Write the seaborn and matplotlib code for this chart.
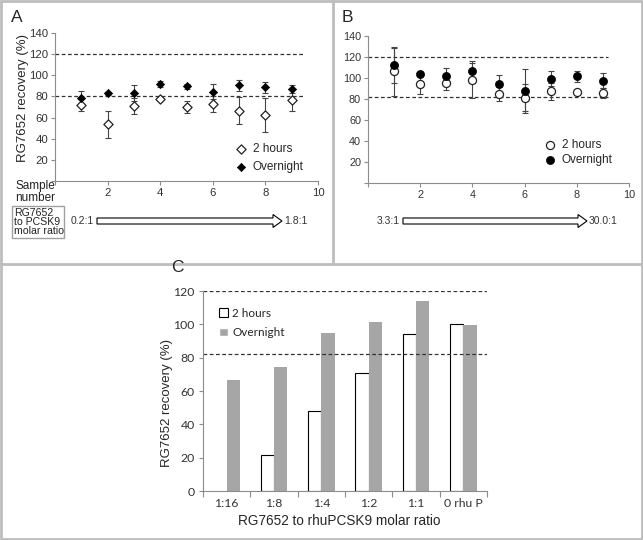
import matplotlib
matplotlib.use("Agg")
import matplotlib.pyplot as plt
from matplotlib.patches import FancyArrow, Rectangle
import numpy as np
import pandas as pd
import seaborn as sns

# data
samples = [1, 2, 3, 4, 5, 6, 7, 8, 9]

a_2h = [71.8, 53.6, 71.0, 77.2, 70.3, 72.8, 66.5, 62.4, 76.6]
a_2h_err = [6, 12.6, 7.5, 1.5, 5.7, 7.3, 12.6, 16.3, 10]
a_on = [78.8, 83.0, 83.0, 91.8, 89.6, 84.5, 90.6, 88.5, 87.0]
a_on_err = [6, 1.2, 7.5, 3, 2.5, 7, 5, 5, 4]

b_2h = [106.3, 94.2, 94.8, 97.7, 84.7, 81.2, 87.2, 86.3, 85.6]
b_2h_err = [23, 9, 6, 17, 7, 13, 8, 1.5, 5]
b_on = [112.0, 103.8, 101.5, 106.3, 94.2, 87.8, 99.3, 101.5, 97.4]
b_on_err = [17, 2, 8, 10, 9, 21, 7, 5, 7]

c_ratios = ["1:16", "1:8", "1:4", "1:2", "1:1", "0 rhu P"]
c_2h = [np.nan, 21.4, 47.9, 70.9, 94.2, 100.2]
c_on = [66.9, 74.5, 94.6, 101.2, 113.8, 99.8]

a_limits = [120, 80]
b_limits = [120, 82]
c_limits = [120, 82]

sns.set_style("white")
plt.rcParams["font.family"] = ["Liberation Sans", "DejaVu Sans"]
plt.rcParams["axes.edgecolor"] = "#8c8c8c"
plt.rcParams["xtick.color"] = "#8c8c8c"
plt.rcParams["ytick.color"] = "#8c8c8c"
plt.rcParams["xtick.labelcolor"] = "#333333"
plt.rcParams["ytick.labelcolor"] = "#333333"

fig = plt.figure(figsize=(6.43, 5.4), dpi=100)

# overlay in pixel coords for frames, arrows and boxes
ov = fig.add_axes([0, 0, 1, 1])
ov.set_xlim(0, 643)
ov.set_ylim(540, 0)
ov.axis("off")
frame = "#bdbdbd"
ov.add_patch(Rectangle((1, 1), 641, 538, fill=False, ec=frame, lw=2))
ov.plot([0, 643], [264, 264], color=frame, lw=2)
ov.plot([333, 333], [0, 264], color=frame, lw=2)

def hollow_arrow(x0, x1, y):
    ov.add_patch(FancyArrow(x0, y, x1 - x0, 0, width=6, head_width=13, head_length=9,
                            length_includes_head=True, fc="white", ec="black", lw=0.8))

hollow_arrow(97, 282, 221)
ov.text(94, 221, "0.2:1", ha="right", va="center", fontsize=7.5, color="#333333")
ov.text(284, 221, "1.8:1", ha="left", va="center", fontsize=7.5, color="#333333")
hollow_arrow(403, 587, 221)
ov.text(400, 221, "3.3:1", ha="right", va="center", fontsize=7.5, color="#333333")
ov.text(589, 221, "30.0:1", ha="left", va="center", fontsize=7.5, color="#333333")
ov.add_patch(Rectangle((12, 206), 52, 32, fill=False, ec="#a0a0a0", lw=1))
ov.text(14, 222, "RG7652\nto PCSK9\nmolar ratio", ha="left", va="center",
        fontsize=7.6, linespacing=0.88, color="#222222")
ov.text(15, 192, "Sample\nnumber", ha="left", va="center", fontsize=8.5,
        linespacing=0.95, color="#222222")
ov.text(11, 18, "A", fontsize=12.5, va="center")
ov.text(342, 18, "B", fontsize=12.5, va="center")
ov.text(171, 268, "C", fontsize=12.5, va="center")


def point_panel(ax, y2, e2, yo, eo, marker, msize, limits, dash_end):
    for lim in limits:
        ax.plot([0, dash_end], [lim, lim], ls=(0, (3, 2)), color="#333333", lw=0.9)
    ax.errorbar(samples, y2, yerr=e2, fmt="none", ecolor="#444444", elinewidth=0.8,
                capsize=2, capthick=0.8)
    ax.errorbar(samples, yo, yerr=eo, fmt="none", ecolor="#444444", elinewidth=0.8,
                capsize=2, capthick=0.8)
    sns.scatterplot(x=samples, y=y2, ax=ax, marker=marker, s=msize, facecolor="white",
                    edgecolor="#222222", linewidth=0.9, label="2 hours", zorder=3)
    sns.scatterplot(x=samples, y=yo, ax=ax, marker=marker, s=msize * 0.8 if marker == "D" else msize,
                    color="black", edgecolor="black", linewidth=0.5, label="Overnight", zorder=4)
    ax.set_xlim(0, 10)
    ax.set_ylim(0, 140)
    ax.set_xticks([0, 2, 4, 6, 8, 10])
    ax.set_xticklabels(["", "2", "4", "6", "8", "10"])
    ax.set_yticks([0, 20, 40, 60, 80, 100, 120, 140])
    ax.set_yticklabels(["", "20", "40", "60", "80", "100", "120", "140"])
    ax.tick_params(axis="both", length=3, width=0.8, direction="out", labelsize=8.2,
                   bottom=True, left=True, pad=2)
    sns.despine(ax=ax)


ax_a = fig.add_axes([55 / 643, 1 - 181 / 540, 263 / 643, 148 / 540])
point_panel(ax_a, a_2h, a_2h_err, a_on, a_on_err, "D", 22, a_limits, 9.5)
ax_a.set_ylabel("RG7652 recovery (%)", fontsize=9.5)
ax_a.yaxis.set_label_coords(-0.1, 0.56)
ax_a.legend(loc="lower left", bbox_to_anchor=(0.63, 0.0), frameon=False, fontsize=8.5,
            handletextpad=0.0, labelspacing=0.5, borderpad=0.2)

ax_b = fig.add_axes([368 / 643, 1 - 183 / 540, 261 / 643, 147 / 540])
point_panel(ax_b, b_2h, b_2h_err, b_on, b_on_err, "o", 34, b_limits, 9.2)
ax_b.tick_params(labelsize=7.8)
ax_b.legend(loc="lower left", bbox_to_anchor=(0.62, 0.06), frameon=False, fontsize=8.5,
            handletextpad=0.0, labelspacing=0.25, borderpad=0.2)

# panel C bars
df_c = pd.DataFrame({
    "ratio": c_ratios * 2,
    "time": ["2 hours"] * len(c_ratios) + ["Overnight"] * len(c_ratios),
    "recovery": c_2h + c_on,
})
ax_c = fig.add_axes([203 / 643, 1 - 491 / 540, 284 / 643, 200 / 540])
sns.barplot(data=df_c, x="ratio", y="recovery", hue="time", order=c_ratios,
            hue_order=["2 hours", "Overnight"], palette=["white", "#a6a6a6"],
            width=0.565, ax=ax_c, errorbar=None, saturation=1)
for bar in ax_c.containers[0]:
    bar.set_edgecolor("black")
    bar.set_linewidth(0.8)
for bar in ax_c.containers[1]:
    bar.set_edgecolor("none")
for lim in c_limits:
    ax_c.plot([-0.5, 5.5], [lim, lim], ls=(0, (3, 2)), color="#333333", lw=0.9)
ax_c.set_xlim(-0.5, 5.5)
ax_c.set_ylim(0, 120)
ax_c.set_yticks(range(0, 121, 20))
ax_c.set_xticks(np.arange(-0.5, 6, 1), minor=True)
ax_c.tick_params(axis="x", which="major", length=0, labelsize=8.8, pad=5)
ax_c.tick_params(axis="x", which="minor", length=4, width=0.8, bottom=True)
ax_c.tick_params(axis="y", length=3, width=0.8, left=True, labelsize=8.8, pad=3)
for lab in ax_c.get_xticklabels() + ax_c.get_yticklabels():
    lab.set_family(["Lato", "DejaVu Sans"])
sns.despine(ax=ax_c)
ax_c.set_xlabel("RG7652 to rhuPCSK9 molar ratio", fontsize=9.8)
ax_c.xaxis.set_label_coords(0.48, -0.115)
ax_c.set_ylabel("RG7652 recovery (%)", fontsize=9.5)
ax_c.yaxis.set_label_coords(-0.105, 0.44)
leg = ax_c.legend(loc="upper left", bbox_to_anchor=(0.02, 0.97), frameon=False,
                  handlelength=0.7, handleheight=0.7, handletextpad=0.4,
                  labelspacing=0.7, prop={"family": "Lato", "size": 8.5})
for h in leg.legend_handles:
    if h.get_facecolor()[0] > 0.9:
        h.set_edgecolor("black")
        h.set_linewidth(0.8)

fig.savefig("out.png", dpi=100)
